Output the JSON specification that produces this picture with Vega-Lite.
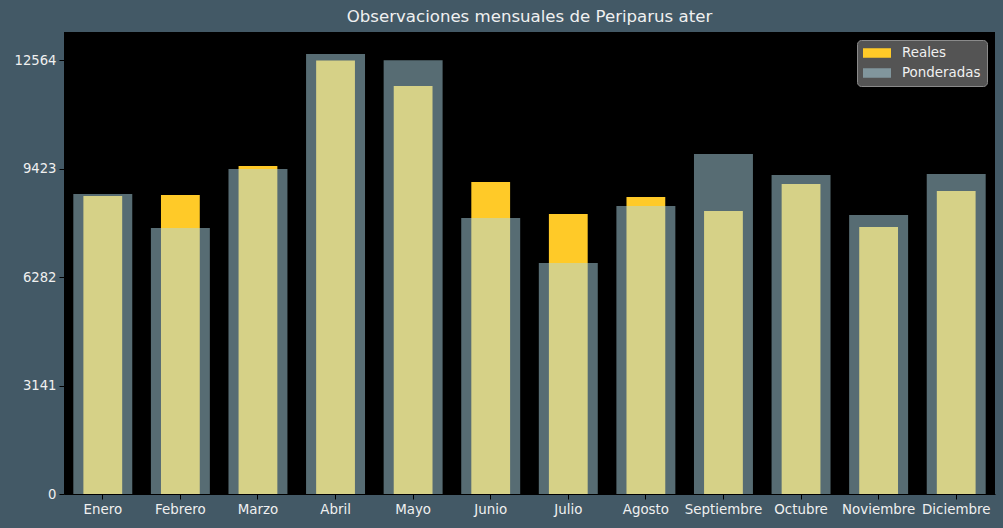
{
  "$schema": "https://vega.github.io/schema/vega-lite/v6.json",
  "autosize": "none",
  "width": 931,
  "height": 462,
  "padding": {"left": 64, "top": 32, "right": 8, "bottom": 34},
  "background": "#435966",
  "view": {"fill": "black", "stroke": null},
  "title": {"text": "Observaciones mensuales de Periparus ater", "color": "#f0f0f0", "fontSize": 16.6, "font": "DejaVu Sans", "fontWeight": "normal", "anchor": "middle", "offset": 6},
  "config": {"font": "DejaVu Sans"},
  "data": {"values": [
    {"mes": "Enero", "serie": "Reales", "valor": 8636},
    {"mes": "Febrero", "serie": "Reales", "valor": 8665},
    {"mes": "Marzo", "serie": "Reales", "valor": 9505},
    {"mes": "Abril", "serie": "Reales", "valor": 12564},
    {"mes": "Mayo", "serie": "Reales", "valor": 11824},
    {"mes": "Junio", "serie": "Reales", "valor": 9042},
    {"mes": "Julio", "serie": "Reales", "valor": 8114},
    {"mes": "Agosto", "serie": "Reales", "valor": 8607},
    {"mes": "Septiembre", "serie": "Reales", "valor": 8201},
    {"mes": "Octubre", "serie": "Reales", "valor": 8984},
    {"mes": "Noviembre", "serie": "Reales", "valor": 7738},
    {"mes": "Diciembre", "serie": "Reales", "valor": 8781},
    {"mes": "Enero", "serie": "Ponderadas", "valor": 8694},
    {"mes": "Febrero", "serie": "Ponderadas", "valor": 7709},
    {"mes": "Marzo", "serie": "Ponderadas", "valor": 9419},
    {"mes": "Abril", "serie": "Ponderadas", "valor": 12751},
    {"mes": "Mayo", "serie": "Ponderadas", "valor": 12570},
    {"mes": "Junio", "serie": "Ponderadas", "valor": 7998},
    {"mes": "Julio", "serie": "Ponderadas", "valor": 6694},
    {"mes": "Agosto", "serie": "Ponderadas", "valor": 8346},
    {"mes": "Septiembre", "serie": "Ponderadas", "valor": 9853},
    {"mes": "Octubre", "serie": "Ponderadas", "valor": 9245},
    {"mes": "Noviembre", "serie": "Ponderadas", "valor": 8085},
    {"mes": "Diciembre", "serie": "Ponderadas", "valor": 9274}
  ]},
  "encoding": {
    "x": {"field": "mes", "type": "nominal", "sort": null,
      "scale": {"paddingInner": 0, "paddingOuter": 0},
      "axis": {"title": null, "labelAngle": 0, "labelColor": "#f0f0f0", "labelFontSize": 13.4, "labelPadding": 3, "tickColor": "black", "tickSize": 5, "domainColor": "black", "grid": false}},
    "y": {"field": "valor", "type": "quantitative",
      "scale": {"domain": [0, 13389], "nice": false, "zero": true},
      "axis": {"title": null, "values": [0, 3141, 6282, 9423, 12564], "format": "d", "labelColor": "#f0f0f0", "labelFontSize": 13.2, "labelPadding": 3, "tickColor": "black", "tickSize": 5, "domainColor": "black", "grid": false}},
    "color": {"field": "serie", "type": "nominal",
      "scale": {"domain": ["Reales", "Ponderadas"], "range": ["#FFCA28", "#ADD8E6"]},
      "legend": {"title": null, "orient": "top-right", "offset": 8, "fillColor": "#545454", "strokeColor": "#8a8a8a", "cornerRadius": 4, "padding": 6, "labelColor": "#f0f0f0", "labelFontSize": 13.4, "symbolType": "M-1,-0.68L3,-0.68L3,0.68L-1,0.68Z", "symbolSize": 196, "symbolStrokeWidth": 0, "rowPadding": 6, "labelOffset": 25}},
    "opacity": {"field": "serie", "type": "nominal",
      "scale": {"domain": ["Reales", "Ponderadas"], "range": [1, 0.5]}}
  },
  "layer": [
    {"transform": [{"filter": "datum.serie === 'Reales'"}],
     "mark": {"type": "bar", "width": {"band": 0.5}}},
    {"transform": [{"filter": "datum.serie === 'Ponderadas'"}],
     "mark": {"type": "bar", "width": {"band": 0.76}}}
  ]
}
